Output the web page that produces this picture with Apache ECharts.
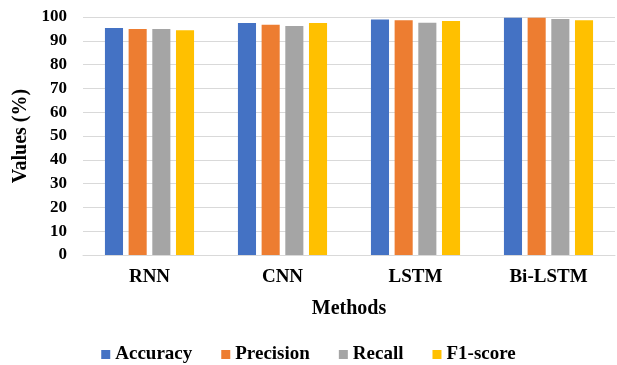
<!DOCTYPE html>
<html><head><meta charset="utf-8">
<script src="https://cdn.jsdelivr.net/npm/echarts@6/dist/echarts.min.js"></script>
<style>html,body{margin:0;padding:0;background:#fff}#c{width:617px;height:365px}</style>
</head><body><div id="c"></div>
<script>
const categories = ['RNN', 'CNN', 'LSTM', 'Bi-LSTM'];
const seriesNames = ['Accuracy', 'Precision', 'Recall', 'F1-score'];
const accuracy = [95.4, 97.5, 99.0, 99.7];
const precision = [95.0, 96.7, 98.6, 99.7];
const recall = [95.0, 96.2, 97.6, 99.2];
const f1score = [94.4, 97.5, 98.3, 98.6];
const yTicks = [0, 10, 20, 30, 40, 50, 60, 70, 80, 90, 100];
const colors = ['#4472C4', '#ED7D31', '#A5A5A5', '#FFC000'];
const values = [accuracy, precision, recall, f1score];
const font = 'Liberation Serif, "Times New Roman", serif';

const chart = echarts.init(document.getElementById('c'));
chart.setOption({
  animation: false,
  textStyle: { fontFamily: font },
  grid: { left: 83, right: 2, top: 17, bottom: 110, containLabel: false, outerBoundsMode: 'none' },
  legend: {
    bottom: -4, left: 'center',
    itemWidth: 9, itemHeight: 9, itemGap: 29,
    icon: 'rect',
    textStyle: { fontFamily: font, fontWeight: 'bold', fontSize: 19, color: '#000' },
    data: seriesNames
  },
  xAxis: {
    type: 'category', data: categories,
    name: 'Methods', nameLocation: 'middle', nameGap: 44,
    nameTextStyle: { fontFamily: font, fontWeight: 'bold', fontSize: 20, color: '#000' },
    axisLine: { lineStyle: { color: '#D9D9D9', width: 1 } },
    axisTick: { show: false },
    axisLabel: { fontFamily: font, fontWeight: 'bold', fontSize: 19, color: '#000', margin: 13 }
  },
  yAxis: {
    type: 'value', min: 0, max: 100, interval: 10,
    name: 'Values (%)', nameLocation: 'middle', nameGap: 47, nameRotate: 90,
    nameTextStyle: { fontFamily: font, fontWeight: 'bold', fontSize: 20, color: '#000' },
    axisLine: { show: false }, axisTick: { show: false },
    splitLine: { lineStyle: { color: '#D9D9D9', width: 1 } },
    axisLabel: {
      fontFamily: font, fontWeight: 'bold', fontSize: 17, color: '#000', margin: 16,
      formatter: v => yTicks.includes(v) ? String(v) : ''
    }
  },
  series: seriesNames.map((n, i) => ({
    name: n, type: 'bar', data: values[i],
    itemStyle: { color: colors[i] },
    barGap: '31%', barCategoryGap: '33%'
  }))
});
</script></body></html>
